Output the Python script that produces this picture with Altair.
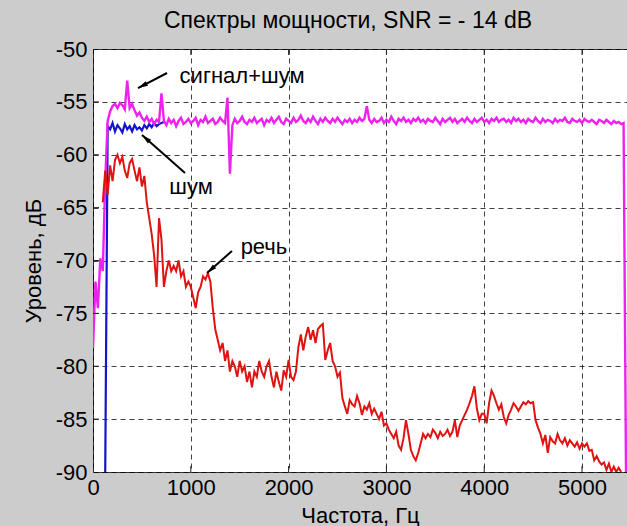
import math
import altair as alt
import pandas as pd

FONT = "Liberation Sans"
W, H = 534, 423
X_MAX = 5460
Y_MIN, Y_MAX = -90, -50
BIN_HZ = 25

x_ticks = [0, 1000, 2000, 3000, 4000, 5000]
y_ticks = [-90, -85, -80, -75, -70, -65, -60, -55, -50]

# Speech-only spectrum, dB, 25 Hz bins starting at 100 Hz
speech_start = 100
speech_db = [
    -64.5, -61.5, -63.8, -61.0, -62.5, -60.5, -60.0, -60.8,
    -60.2, -61.5, -62.2, -60.8, -60.4, -61.5, -62.5, -61.2,
    -63.0, -62.0, -64.5, -66.0, -67.5, -69.5, -72.5, -66.0,
    -68.0, -72.5, -71.0, -70.0, -71.0, -70.5, -71.0, -70.0,
    -71.5, -71.0, -72.5, -72.0, -72.5, -73.5, -74.5, -73.0,
    -72.5, -71.5, -71.8, -71.2, -72.0, -74.5, -76.5, -77.5,
    -78.5, -77.8, -79.5, -78.5, -80.5, -79.5, -80.0, -81.0,
    -79.5, -80.5, -80.0, -81.5, -80.5, -82.0, -80.5, -81.0,
    -79.5, -80.5, -81.0, -80.0, -79.5, -81.0, -82.0, -80.5,
    -81.5, -82.3, -80.4, -81.0, -79.4, -81.0, -81.3, -80.5,
    -78.2, -77.0, -78.5, -77.2, -76.3, -77.5, -76.6, -77.8,
    -76.5, -76.2, -76.0, -79.4, -78.5, -77.8, -79.5, -80.0,
    -81.0, -80.6, -83.0, -83.8, -84.5, -83.2, -83.6, -83.8,
    -82.8, -83.5, -84.6, -83.8, -84.1, -83.5, -84.5, -84.0,
    -84.5, -85.0, -84.3, -85.6, -85.4, -86.0, -86.4, -86.8,
    -86.2, -87.5, -87.9, -86.8, -85.1, -86.4, -87.9, -88.5,
    -88.9, -88.2, -87.3, -86.4, -86.8, -86.4, -86.7, -86.0,
    -86.3, -86.8, -86.2, -86.6, -86.4, -86.0, -86.6, -86.2,
    -85.1, -86.7, -85.6, -85.1, -84.6, -84.1, -83.5, -82.8,
    -81.9, -84.0, -85.1, -84.5, -84.5, -85.4, -83.5, -82.3,
    -82.8, -83.5, -84.1, -83.6, -84.8, -85.4, -84.6, -84.1,
    -83.5, -83.8, -84.2, -83.8, -83.4, -83.6, -83.3, -83.5,
    -83.4, -85.1, -85.8, -86.4, -87.3, -86.5, -88.2, -86.7,
    -87.1, -87.3, -86.4, -87.0, -87.3, -86.8, -87.5, -87.0,
    -87.3, -87.6, -87.2, -87.8, -87.3, -87.6, -87.3, -88.0,
    -87.9, -88.9, -88.5, -89.0, -89.3, -89.1, -89.8, -89.2,
    -90.0, -89.5, -90.0, -89.6, -90.0,
]

# Speech + noise spectrum, dB, 25 Hz bins starting at 0 Hz
mix_start = 0
mix_db = [
    -78.3, -72.0, -74.5, -69.8, -71.0, -62.5, -56.8, -55.9,
    -55.4, -55.2, -55.6, -55.1, -55.3, -55.7, -53.0, -55.6,
    -55.2, -55.8, -56.3, -56.0, -56.5, -56.8, -56.4, -56.9,
    -56.6, -57.1, -56.7, -56.9, -54.2, -56.8, -57.2, -56.6,
    -57.0, -56.7, -57.3, -56.8, -56.5, -57.1, -56.9, -56.6,
    -57.0, -56.8, -56.5, -57.2, -56.7, -56.9, -56.4, -57.0,
    -56.8, -56.6, -57.1, -56.9, -56.5, -56.8, -57.0, -54.6,
    -61.8, -57.2, -56.6, -57.0, -56.8, -56.4, -56.9, -57.1,
    -56.7, -56.9, -56.5, -57.0, -56.8, -56.6, -57.2, -56.7,
    -56.9, -56.5, -57.0, -56.7, -56.4, -56.9, -57.1, -56.6,
    -56.8, -57.0, -56.5, -56.9, -56.7, -56.3, -56.8, -57.0,
    -56.6, -56.9, -56.4, -56.8, -57.1, -56.6, -56.9, -56.5,
    -56.8, -57.0, -56.6, -56.9, -56.5, -56.8, -57.1, -56.7,
    -56.9, -56.6, -57.0, -56.7, -56.9, -56.5, -56.8, -56.6,
    -55.4, -56.7, -57.0, -56.6, -56.9, -56.8, -56.5, -57.0,
    -56.7, -56.9, -56.4, -56.8, -57.1, -56.6, -56.8, -56.5,
    -56.9, -56.7, -57.0, -56.6, -56.8, -56.5, -56.9, -56.7,
    -57.0, -56.6, -56.8, -56.9, -56.5, -56.8, -57.1, -56.6,
    -56.9, -56.7, -56.5, -56.9, -56.6, -57.0, -56.8, -56.6,
    -56.9, -56.5, -56.8, -57.0, -56.6, -56.9, -56.7, -56.5,
    -56.9, -56.7, -57.0, -56.6, -56.8, -56.5, -56.9, -56.7,
    -56.6, -56.9, -56.7, -57.0, -56.5, -56.8, -56.6, -56.9,
    -56.7, -57.0, -56.6, -56.8, -56.9, -56.5, -56.8, -57.0,
    -56.6, -56.9, -56.7, -56.8, -57.0, -56.6, -56.9, -56.7,
    -56.8, -56.5, -56.9, -57.0, -56.6, -56.8, -56.9, -56.7,
    -57.0, -56.6, -56.8, -56.9, -56.7, -56.9, -57.1, -56.7,
    -56.8, -57.0, -56.7, -56.9, -57.1, -56.8, -57.0, -56.9,
    -57.1, -57.0, -90.0,
]

# Noise-only spectrum, dB, 25 Hz bins starting at 125 Hz
noise_start = 125
noise_db = [
    -90.0, -57.3, -57.6, -57.0, -57.8, -57.2, -57.5, -57.9,
    -57.1, -57.6, -57.3, -57.8, -57.2, -57.6, -57.4, -57.7,
    -57.2, -57.5, -57.1, -57.4, -57.0, -57.3, -57.1, -57.0,
    -56.9,
]

# Callouts: label positions and arrows (tail -> head), in Hz / dB
note_text = ["сигнал+шум", "шум", "речь"]
note_x = [1524, 1002, 1748]
note_y = [-52.55, -63.05, -68.72]
arrow_tail_x = [757, 941, 1421]
arrow_tail_y = [-52.27, -61.73, -69.10]
arrow_head_x = [460, 501, 1166]
arrow_head_y = [-53.69, -58.13, -71.18]


def spectrum(start, values):
    return pd.DataFrame({
        "hz": [start + BIN_HZ * i for i in range(len(values))],
        "db": values,
    })


speech = spectrum(speech_start, speech_db)
mix = spectrum(mix_start, mix_db)
noise = spectrum(noise_start, noise_db)

# arrow-head rotation from the on-screen direction of each arrow
sx, sy = W / X_MAX, H / (Y_MAX - Y_MIN)
angles = []
for tx, ty, hx, hy in zip(arrow_tail_x, arrow_tail_y, arrow_head_x, arrow_head_y):
    dx = (hx - tx) * sx
    dy = -(hy - ty) * sy
    angles.append(math.degrees(math.atan2(dx, -dy)) % 360)

arrows = pd.DataFrame({
    "hz": arrow_tail_x, "db": arrow_tail_y,
    "hx": arrow_head_x, "hy": arrow_head_y, "ang": angles,
})
heads = pd.DataFrame({"hz": arrow_head_x, "db": arrow_head_y, "ang": angles})
notes = pd.DataFrame({"hz": note_x, "db": note_y, "label": note_text})

x_scale = alt.Scale(domain=[0, X_MAX], nice=False, zero=False)
y_scale = alt.Scale(domain=[Y_MIN, Y_MAX], nice=False, zero=False)

axis_common = dict(
    grid=True, gridColor="#000000", gridDash=[5, 4], gridOpacity=0.75,
    gridWidth=1, ticks=False, domain=False,
    labelFont=FONT, labelFontSize=22, labelColor="#000000",
    labelExpr="'' + datum.value",
    titleFont=FONT, titleFontSize=22, titleFontWeight="normal",
    titleColor="#000000", labelFlush=False,
)

x_axis = alt.Axis(
    values=x_ticks, title="Частота, Гц", labelPadding=5,
    titleY=43, titleBaseline="middle", **axis_common,
)
y_axis = alt.Axis(
    values=y_ticks, title="Уровень, дБ", labelPadding=6,
    titlePadding=10, **axis_common,
)

# every layer shares the same axis definitions so they merge into one
X = alt.X("hz:Q", scale=x_scale, axis=x_axis, title="Частота, Гц")
Y = alt.Y("db:Q", scale=y_scale, axis=y_axis, title="Уровень, дБ")

noise_line = alt.Chart(noise).mark_line(
    color="#1414cc", strokeWidth=2.2, clip=True
).encode(x=X, y=Y)

mix_line = alt.Chart(mix).mark_line(
    color="#ee22ee", strokeWidth=2.4, clip=True
).encode(x=X, y=Y)

speech_line = alt.Chart(speech).mark_line(
    color="#e01212", strokeWidth=2, clip=True
).encode(x=X, y=Y)

# inward tick marks on the axes box
xt = pd.DataFrame({"hz": x_ticks[1:]})
yt = pd.DataFrame({"db": y_ticks[1:-1]})
x_ticks_bottom = alt.Chart(xt).mark_rule(color="#222222").encode(
    x=X, y=alt.value(H), y2=alt.value(H - 6),
)
x_ticks_top = alt.Chart(xt).mark_rule(color="#222222").encode(
    x=X, y=alt.value(0), y2=alt.value(6),
)
y_ticks_left = alt.Chart(yt).mark_rule(color="#222222").encode(
    y=Y, x=alt.value(0), x2=alt.value(6),
)

arrow_shafts = alt.Chart(arrows).mark_rule(
    color="#000000", strokeWidth=2
).encode(x=X, y=Y, x2="hx:Q", y2="hy:Q")

arrow_heads = alt.Chart(heads).mark_point(
    shape="M0,0 L-0.5,2 L0.5,2 Z", filled=True, color="#000000",
    size=100, opacity=1,
).encode(x=X, y=Y, angle=alt.Angle("ang:Q", scale=None))

labels = alt.Chart(notes).mark_text(
    font=FONT, fontSize=22, color="#000000", align="center",
    baseline="middle",
).encode(x=X, y=Y, text="label:N")

chart = alt.layer(
    noise_line, mix_line, speech_line,
    x_ticks_bottom, x_ticks_top, y_ticks_left,
    arrow_shafts, arrow_heads, labels,
).properties(
    width=W, height=H,
    autosize="none",
    padding={"left": 93, "top": 49, "right": 0, "bottom": 54},
    background="#cccccc",
    title=alt.TitleParams(
        text="Спектры мощности, SNR = - 14 dB", font=FONT, fontSize=23,
        fontWeight="normal", color="#000000", anchor="middle",
        offset=5, dx=-12,
    ),
).configure_view(
    fill="#ffffff", stroke="#333333", strokeWidth=1,
)

chart.save("out.html", embed_options={"renderer": "svg", "actions": False})
